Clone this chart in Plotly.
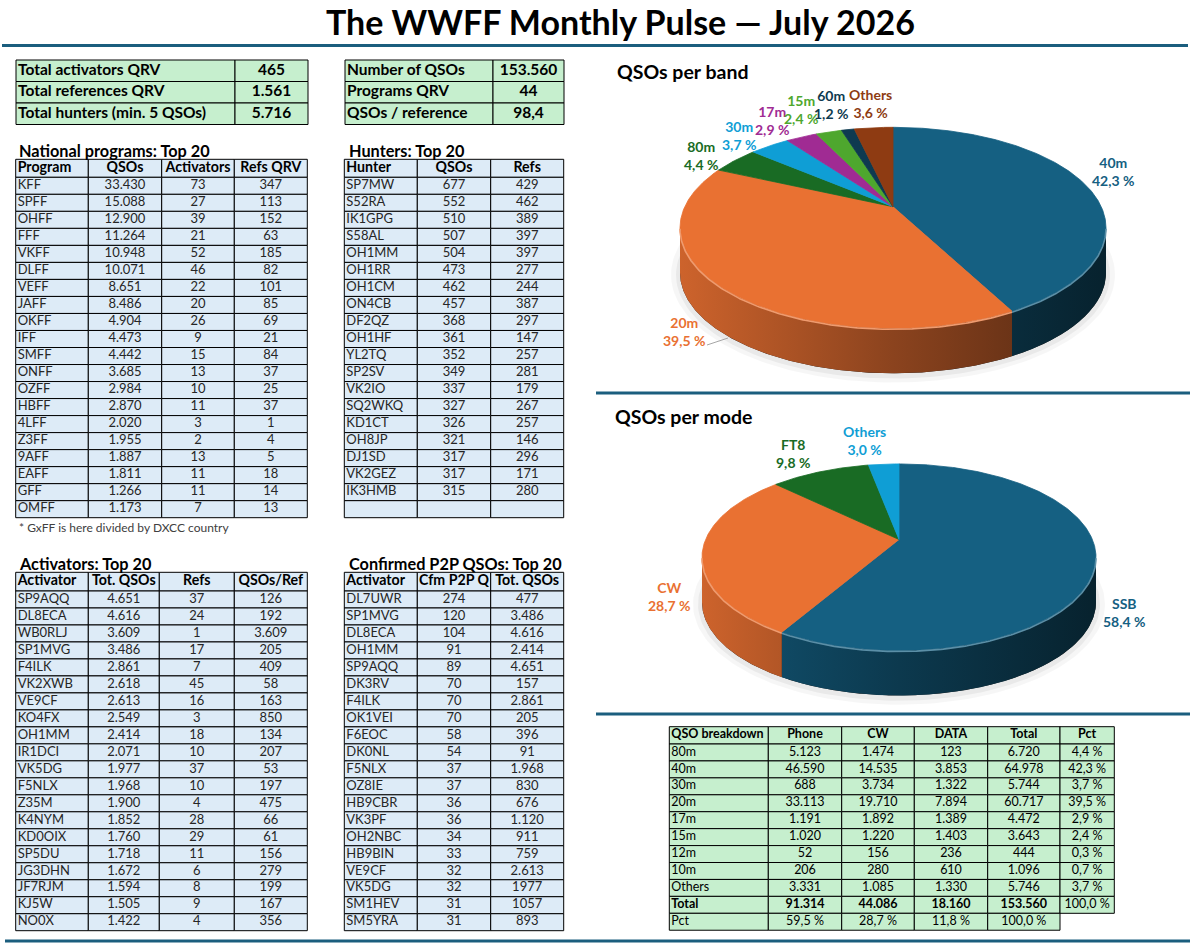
import math
import plotly.graph_objects as go

W, H = 1198, 950
FONT = "Lato"

# ======================= DATA =======================
TITLE = "The WWFF Monthly Pulse — July 2026"

SUM_LEFT_LABELS = ["Total activators QRV", "Total references QRV", "Total hunters (min. 5 QSOs)"]
SUM_LEFT_VALUES = [465, 1561, 5716]
SUM_RIGHT_LABELS = ["Number of QSOs", "Programs QRV", "QSOs / reference"]
SUM_RIGHT_VALUES = [153560, 44, 98.4]

NP_HEADER = ["Program", "QSOs", "Activators", "Refs QRV"]
NP_PROGRAM = ["KFF", "SPFF", "OHFF", "FFF", "VKFF", "DLFF", "VEFF", "JAFF", "OKFF", "IFF",
              "SMFF", "ONFF", "OZFF", "HBFF", "4LFF", "Z3FF", "9AFF", "EAFF", "GFF", "OMFF"]
NP_QSOS = [33430, 15088, 12900, 11264, 10948, 10071, 8651, 8486, 4904, 4473,
           4442, 3685, 2984, 2870, 2020, 1955, 1887, 1811, 1266, 1173]
NP_ACTIVATORS = [73, 27, 39, 21, 52, 46, 22, 20, 26, 9, 15, 13, 10, 11, 3, 2, 13, 11, 11, 7]
NP_REFS = [347, 113, 152, 63, 185, 82, 101, 85, 69, 21, 84, 37, 25, 37, 1, 4, 5, 18, 14, 13]
NP_FOOTNOTE = "* GxFF is here divided by DXCC country"

HU_HEADER = ["Hunter", "QSOs", "Refs"]
HU_CALL = ["SP7MW", "S52RA", "IK1GPG", "S58AL", "OH1MM", "OH1RR", "OH1CM", "ON4CB", "DF2QZ", "OH1HF",
           "YL2TQ", "SP2SV", "VK2IO", "SQ2WKQ", "KD1CT", "OH8JP", "DJ1SD", "VK2GEZ", "IK3HMB"]
HU_QSOS = [677, 552, 510, 507, 504, 473, 462, 457, 368, 361, 352, 349, 337, 327, 326, 321, 317, 317, 315]
HU_REFS = [429, 462, 389, 397, 397, 277, 244, 387, 297, 147, 257, 281, 179, 267, 257, 146, 296, 171, 280]

AC_HEADER = ["Activator", "Tot. QSOs", "Refs", "QSOs/Ref"]
AC_CALL = ["SP9AQQ", "DL8ECA", "WB0RLJ", "SP1MVG", "F4ILK", "VK2XWB", "VE9CF", "KO4FX", "OH1MM", "IR1DCI",
           "VK5DG", "F5NLX", "Z35M", "K4NYM", "KD0OIX", "SP5DU", "JG3DHN", "JF7RJM", "KJ5W", "NO0X"]
AC_QSOS = [4651, 4616, 3609, 3486, 2861, 2618, 2613, 2549, 2414, 2071,
           1977, 1968, 1900, 1852, 1760, 1718, 1672, 1594, 1505, 1422]
AC_REFS = [37, 24, 1, 17, 7, 45, 16, 3, 18, 10, 37, 10, 4, 28, 29, 11, 6, 8, 9, 4]
AC_QSO_PER_REF = [126, 192, 3609, 205, 409, 58, 163, 850, 134, 207,
                  53, 197, 475, 66, 61, 156, 279, 199, 167, 356]

P2_HEADER = ["Activator", "Cfm P2P Q", "Tot. QSOs"]
P2_CALL = ["DL7UWR", "SP1MVG", "DL8ECA", "OH1MM", "SP9AQQ", "DK3RV", "F4ILK", "OK1VEI", "F6EOC", "DK0NL",
           "F5NLX", "OZ8IE", "HB9CBR", "VK3PF", "OH2NBC", "HB9BIN", "VE9CF", "VK5DG", "SM1HEV", "SM5YRA"]
P2_CFM = [274, 120, 104, 91, 89, 70, 70, 70, 58, 54, 37, 37, 36, 36, 34, 33, 32, 32, 31, 31]
# shown as in the source sheet (last rows are not digit-grouped there)
P2_TOTAL = ["477", "3.486", "4.616", "2.414", "4.651", "157", "2.861", "205", "396", "91",
            "1.968", "830", "676", "1.120", "911", "759", "2.613", "1977", "1057", "893"]

BAND_LABELS = ["40m", "20m", "80m", "30m", "17m", "15m", "60m", "Others"]
BAND_PCT = [42.3, 39.5, 4.4, 3.7, 2.9, 2.4, 1.2, 3.6]
MODE_LABELS = ["SSB", "CW", "FT8", "Others"]
MODE_PCT = [58.4, 28.7, 9.8, 3.0]

BD_HEADER = ["QSO breakdown", "Phone", "CW", "DATA", "Total", "Pct"]
BD_BANDS = ["80m", "40m", "30m", "20m", "17m", "15m", "12m", "10m", "Others"]
BD_PHONE = [5123, 46590, 688, 33113, 1191, 1020, 52, 206, 3331]
BD_CW = [1474, 14535, 3734, 19710, 1892, 1220, 156, 280, 1085]
BD_DATA = [123, 3853, 1322, 7894, 1389, 1403, 236, 610, 1330]
BD_TOTAL = [6720, 64978, 5744, 60717, 4472, 3643, 444, 1096, 5746]
BD_PCT = [4.4, 42.3, 3.7, 39.5, 2.9, 2.4, 0.3, 0.7, 3.7]

# ======================= STYLE / LAYOUT =======================
BAND_COLORS = ["#156082", "#E97132", "#196B24", "#0F9ED5", "#A02B93", "#4EA72E", "#0E3A50", "#8E3B12"]
MODE_COLORS = ["#156082", "#E97132", "#196B24", "#0F9ED5"]
GREEN_FILL = "#C6EFCE"
BLUE_FILL = "#DDEBF7"
RULE_COLOR = "#1B5E7E"

BAND_LABEL_POS = {"40m": (1113, 171), "20m": (684, 331), "80m": (701, 155), "30m": (739, 135),
                  "17m": (772, 120), "15m": (801, 109), "60m": (831, 104), "Others": (870, 103)}
MODE_LABEL_POS = {"SSB": (1124, 612), "CW": (669, 596), "FT8": (793, 453), "Others": (864, 440)}


def fmt(v):
    if isinstance(v, float):
        return f"{v:.1f}".replace(".", ",")
    return f"{v:,}".replace(",", ".")


def fmt_pct(v):
    return f"{v:.1f}".replace(".", ",") + " %"


def hex2rgb(h):
    h = h.lstrip("#")
    return tuple(int(h[i:i + 2], 16) for i in (0, 2, 4))


def shade(h, f):
    r, g, b = hex2rgb(h)
    return f"rgb({int(r * f)},{int(g * f)},{int(b * f)})"


def tint(h, f):
    r, g, b = hex2rgb(h)
    return f"rgb({int(r + (255 - r) * f)},{int(g + (255 - g) * f)},{int(b + (255 - b) * f)})"


fig = go.Figure()
shapes = []
annotations = []


def draw_table(x0, y0, widths, heights, rows, fill, aligns, sizes, bolds, colors):
    xs = [x0]
    for w in widths:
        xs.append(xs[-1] + w)
    ys = [y0]
    for h in heights:
        ys.append(ys[-1] + h)
    groups = {}
    for r, row in enumerate(rows):
        for c, txt in enumerate(row):
            if txt is None:
                continue
            shapes.append(dict(type="rect", xref="x", yref="y", x0=xs[c], x1=xs[c + 1],
                               y0=ys[r], y1=ys[r + 1], fillcolor=fill,
                               line=dict(color="black", width=1), layer="below"))
            if aligns[c] == "left":
                tx, pos = xs[c] + 2, "middle right"
            else:
                tx, pos = (xs[c] + xs[c + 1]) / 2, "middle center"
            key = (pos, sizes[r], bolds[r][c], colors[r])
            g = groups.setdefault(key, ([], [], []))
            g[0].append(tx)
            g[1].append((ys[r] + ys[r + 1]) / 2)
            g[2].append(txt)
    for (pos, size, bold, color), (gx, gy, gt) in groups.items():
        fig.add_trace(go.Scatter(
            x=gx, y=gy, text=gt, mode="text", textposition=pos,
            textfont=dict(family=FONT, size=size, color=color, weight="bold" if bold else "normal"),
            hoverinfo="skip", showlegend=False, cliponaxis=False))


def section_title(x, y, text, size):
    annotations.append(dict(x=x, y=y, xref="x", yref="y", text=f"<b>{text}</b>", showarrow=False,
                            xanchor="left", yanchor="middle",
                            font=dict(family=FONT, size=size, color="black")))


def pie3d(labels, values, colors, cx, apex_y, hr, vr, p, depth, label_pos):
    total = float(sum(values))
    sx = hr * math.sqrt(1 - p * p)
    sy = vr * (1 - p * p)
    cy = apex_y + vr * p

    def pt(deg, dy=0.0):
        t = math.radians(deg)
        u, w = math.sin(t), math.cos(t)
        d = 1 + p * w
        return cx + sx * u / d, apex_y - sy * w / d + dy

    def arc(s, e, dy=0.0):
        n = max(2, int((e - s) * 2) + 1)
        return [pt(s + (e - s) * i / (n - 1), dy) for i in range(n)]

    def poly(pts, **kw):
        fig.add_trace(go.Scatter(x=[q[0] for q in pts], y=[q[1] for q in pts], mode="lines",
                                 fill="toself", hoverinfo="skip", showlegend=False, **kw))

    lo = math.degrees(math.acos(-p))
    hi = 360 - lo
    bounds = [0.0]
    for v in values:
        bounds.append(bounds[-1] + 360.0 * v / total)

    # soft shadow
    for grow, alpha in ((9, 0.035), (4, 0.05)):
        pts = []
        for i in range(181):
            t = math.radians(i * 2)
            pts.append((cx + (hr + grow) * math.sin(t), cy + depth + 2 - (vr + grow * 0.8) * math.cos(t)))
        poly(pts, line=dict(width=0), fillcolor=f"rgba(0,0,0,{alpha})")

    # side walls
    poly(arc(lo, hi) + arc(lo, hi, depth)[::-1], line=dict(width=0), fillcolor="#1a1a1a")
    for i, c in enumerate(colors):
        s, e = max(bounds[i], lo), min(bounds[i + 1], hi)
        if e - s > 1e-6:
            poly(arc(s, e) + arc(s, e, depth)[::-1], line=dict(width=0),
                 fillgradient=dict(type="horizontal", start=cx - hr, stop=cx + hr,
                                   colorscale=[[0, shade(c, 0.88)], [0.5, shade(c, 0.6)],
                                               [1, shade(c, 0.36)]]))
    # top faces
    for i, c in enumerate(colors):
        pts = [(cx, apex_y)] + arc(bounds[i], bounds[i + 1]) + [(cx, apex_y)]
        poly(pts, line=dict(width=0.8, color=c), fillcolor=c)
    # bevel highlight on front rim
    for i, c in enumerate(colors):
        s, e = max(bounds[i], lo), min(bounds[i + 1], hi)
        if e - s > 1e-6:
            pts = arc(s, e, 1.0)
            fig.add_trace(go.Scatter(x=[q[0] for q in pts], y=[q[1] for q in pts], mode="lines",
                                     line=dict(width=1.6, color=tint(c, 0.3)),
                                     hoverinfo="skip", showlegend=False))
    # labels
    for lab, v, c in zip(labels, values, colors):
        x, y = label_pos[lab]
        annotations.append(dict(x=x, y=y, xref="x", yref="y", showarrow=False,
                                text=f"<b>{lab}<br>{fmt_pct(v)}</b>", align="center",
                                xanchor="center", yanchor="middle",
                                font=dict(family=FONT, size=14, color=c)))


# ======================= TITLE & RULES =======================
annotations.append(dict(x=620, y=21, xref="x", yref="y", text=f"<b>{TITLE}</b>", showarrow=False,
                        xanchor="center", yanchor="middle", font=dict(family=FONT, size=34, color="black")))
for (xa, xb, yy) in ((2, 1188, 45.5), (596, 1190, 393), (596, 1190, 714), (5, 1190, 941)):
    shapes.append(dict(type="line", xref="x", yref="y", x0=xa, x1=xb, y0=yy, y1=yy,
                       line=dict(color=RULE_COLOR, width=3), layer="below"))

# ======================= SUMMARY TABLES =======================
draw_table(16, 60, [219, 73], [21.5, 21.5, 21.5],
           [[l, fmt(v)] for l, v in zip(SUM_LEFT_LABELS, SUM_LEFT_VALUES)],
           GREEN_FILL, ["left", "center"], [15.5] * 3, [[True, True]] * 3, ["black"] * 3)
draw_table(345, 60, [148, 71], [21.5, 21.5, 21.5],
           [[l, fmt(v)] for l, v in zip(SUM_RIGHT_LABELS, SUM_RIGHT_VALUES)],
           GREEN_FILL, ["left", "center"], [15.5] * 3, [[True, True]] * 3, ["black"] * 3)

# ======================= NATIONAL PROGRAMS =======================
section_title(17, 150, "National programs: Top 20", 16.3)
rows = [NP_HEADER] + [[a, fmt(b), fmt(c), fmt(d)] for a, b, c, d in
                      zip(NP_PROGRAM, NP_QSOS, NP_ACTIVATORS, NP_REFS)]
n = len(rows)
draw_table(15.7, 159.3, [72.6, 73.4, 72.6, 73.0], [18] + [17.02] * (n - 1), rows, BLUE_FILL,
           ["left", "center", "center", "center"], [14.2] + [13] * (n - 1),
           [[True] * 4] + [[False] * 4] * (n - 1), ["black"] + ["#262626"] * (n - 1))
annotations.append(dict(x=17, y=527, xref="x", yref="y", text=NP_FOOTNOTE, showarrow=False,
                        xanchor="left", yanchor="middle", font=dict(family=FONT, size=12, color="#404040")))

# ======================= HUNTERS =======================
section_title(347, 150, "Hunters: Top 20", 16.3)
rows = [HU_HEADER] + [[a, fmt(b), fmt(c)] for a, b, c in zip(HU_CALL, HU_QSOS, HU_REFS)] + [["", "", ""]]
n = len(rows)
draw_table(344.3, 159.3, [73.0, 73.4, 73.0], [18] + [17.02] * (n - 1), rows, BLUE_FILL,
           ["left", "center", "center"], [14.2] + [13] * (n - 1),
           [[True] * 3] + [[False] * 3] * (n - 1), ["black"] + ["#262626"] * (n - 1))

# ======================= ACTIVATORS =======================
section_title(17, 563, "Activators: Top 20", 16.3)
rows = [AC_HEADER] + [[a, fmt(b), fmt(c), fmt(d)] for a, b, c, d in
                      zip(AC_CALL, AC_QSOS, AC_REFS, AC_QSO_PER_REF)]
n = len(rows)
draw_table(15.7, 572.3, [72.6, 71.0, 75.0, 73.0], [18.7] + [16.985] * (n - 1), rows, BLUE_FILL,
           ["left", "center", "center", "center"], [14.2] + [13] * (n - 1),
           [[True] * 4] + [[False] * 4] * (n - 1), ["black"] + ["#262626"] * (n - 1))

# ======================= P2P =======================
section_title(347, 563, "Confirmed P2P QSOs: Top 20", 16.3)
rows = [P2_HEADER] + [[a, fmt(b), c] for a, b, c in zip(P2_CALL, P2_CFM, P2_TOTAL)]
n = len(rows)
draw_table(344.3, 572.3, [73.0, 73.4, 73.0], [18.7] + [16.985] * (n - 1), rows, BLUE_FILL,
           ["left", "center", "center"], [14.2] + [13] * (n - 1),
           [[True] * 3] + [[False] * 3] * (n - 1), ["black"] + ["#262626"] * (n - 1))

# ======================= PIES =======================
section_title(615, 71, "QSOs per band", 19.5)
pie3d(BAND_LABELS, BAND_PCT, BAND_COLORS, cx=893, apex_y=206.7, hr=213, vr=100.5, p=0.21, depth=45,
      label_pos=BAND_LABEL_POS)
shapes.append(dict(type="line", xref="x", yref="y", x0=707, x1=728, y0=345, y1=338,
                   line=dict(color="#a6a6a6", width=1)))

section_title(613, 416.5, "QSOs per mode", 19.5)
pie3d(MODE_LABELS, MODE_PCT, MODE_COLORS, cx=899, apex_y=539.5, hr=197, vr=93.3, p=0.19, depth=45,
      label_pos=MODE_LABEL_POS)

# ======================= BREAKDOWN =======================
tot_phone, tot_cw, tot_data, tot_all = sum(BD_PHONE), sum(BD_CW), sum(BD_DATA), sum(BD_TOTAL)
rows = [BD_HEADER]
for b, ph, cw, da, to, pc in zip(BD_BANDS, BD_PHONE, BD_CW, BD_DATA, BD_TOTAL, BD_PCT):
    rows.append([b, fmt(ph), fmt(cw), fmt(da), fmt(to), fmt_pct(pc)])
rows.append(["Total", fmt(tot_phone), fmt(tot_cw), fmt(tot_data), fmt(tot_all), fmt_pct(100.0)])
rows.append(["Pct", fmt_pct(100.0 * tot_phone / tot_all), fmt_pct(100.0 * tot_cw / tot_all),
             fmt_pct(100.0 * tot_data / tot_all), fmt_pct(100.0), None])
n = len(rows)
bolds = [[True] * 6] + [[False] * 6] * len(BD_BANDS) + [[True] * 5 + [False]] + [[False] * 6]
draw_table(669.3, 726.7, [99.0, 73.4, 72.6, 73.4, 72.3, 54.3], [17.3] + [16.93] * (n - 1), rows,
           GREEN_FILL, ["left"] + ["center"] * 5, [12.5] * n, bolds, ["black"] * n)

# ======================= LAYOUT =======================
fig.update_layout(
    width=W, height=H, autosize=False,
    margin=dict(l=0, r=0, t=0, b=0, pad=0),
    paper_bgcolor="white", plot_bgcolor="white",
    showlegend=False, hovermode=False,
    xaxis=dict(range=[0, W], visible=False, fixedrange=True, domain=[0, 1]),
    yaxis=dict(range=[H, 0], visible=False, fixedrange=True, domain=[0, 1]),
    shapes=shapes, annotations=annotations,
    font=dict(family=FONT),
)

fig.write_html("out.html", config={"displayModeBar": False},
               post_script="document.body.style.margin='0px';document.body.style.overflow='hidden';")
